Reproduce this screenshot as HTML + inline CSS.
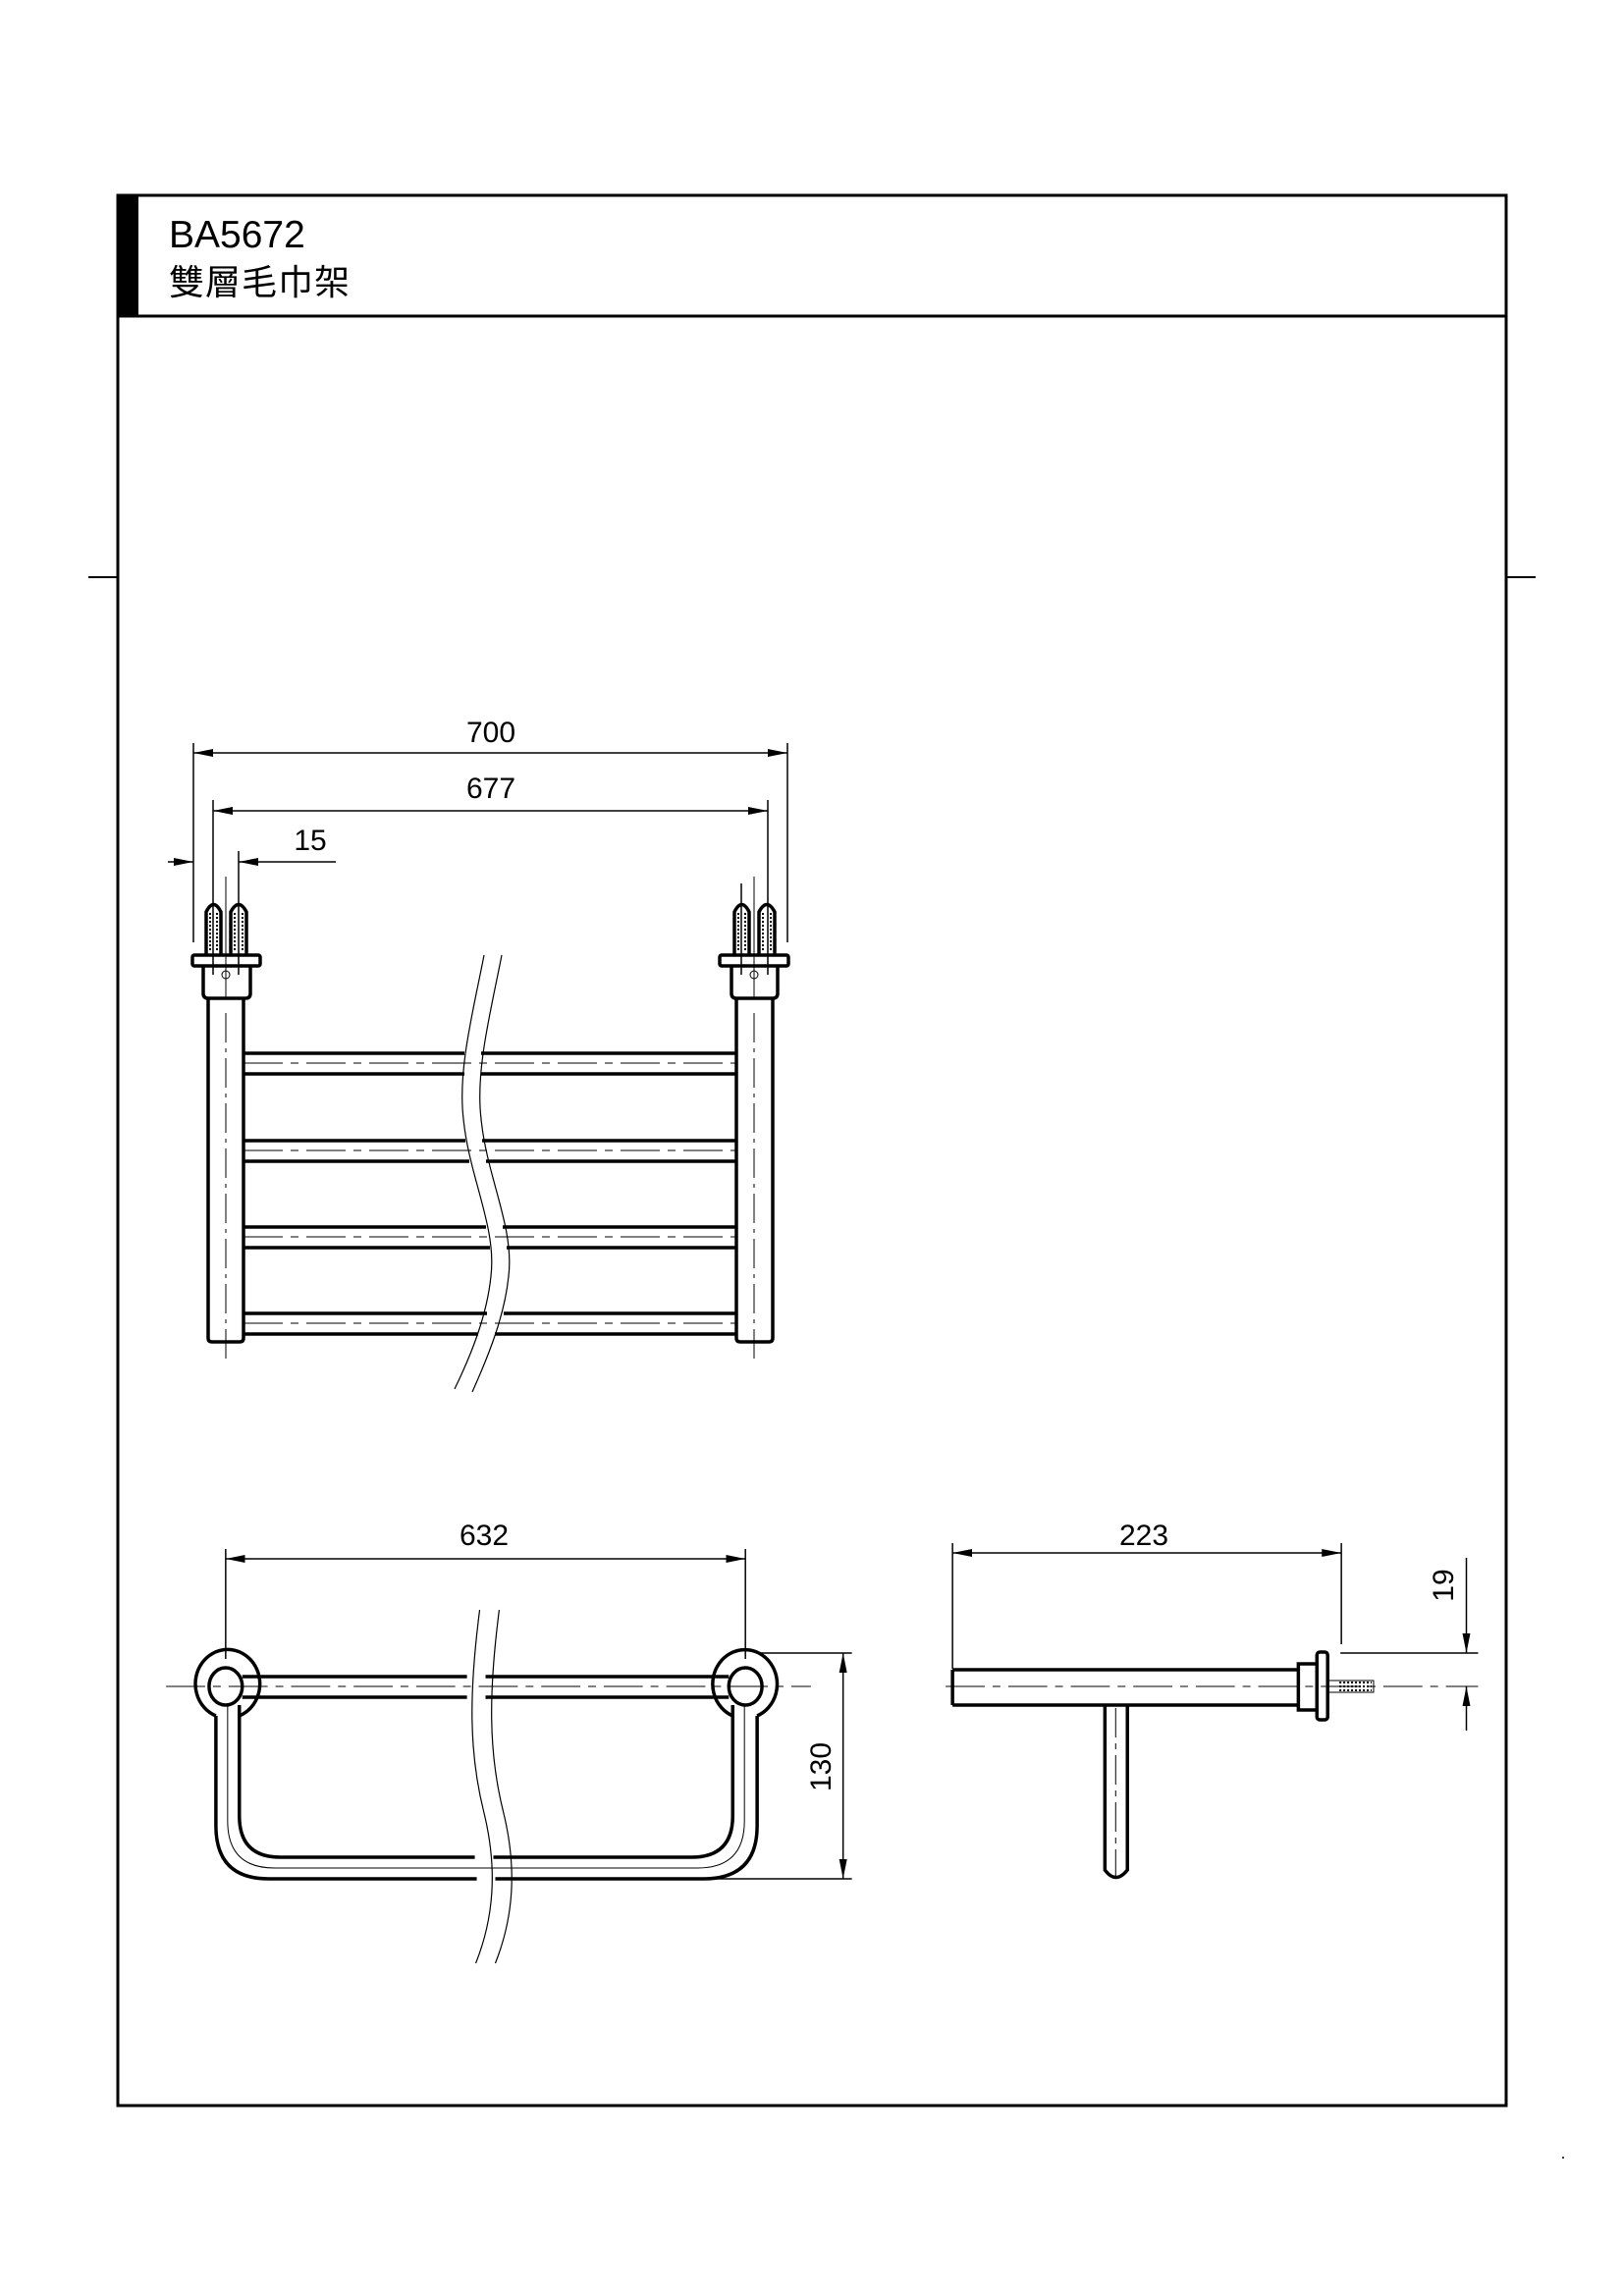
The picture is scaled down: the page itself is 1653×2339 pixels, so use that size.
<!DOCTYPE html>
<html><head><meta charset="utf-8"><style>
html,body{margin:0;padding:0;background:#fff}
svg{display:block}
text{font-family:"Liberation Sans","Noto Sans CJK TC",sans-serif;fill:#000}
</style></head><body>
<svg width="1653" height="2339" viewBox="0 0 1653 2339" xmlns="http://www.w3.org/2000/svg">
<defs>
<marker id="a" viewBox="0 0 20 8" refX="20" refY="4" markerWidth="20" markerHeight="8" markerUnits="userSpaceOnUse" orient="auto-start-reverse"><path d="M0,0 L20,4 L0,8 Z" fill="#000"/></marker>
</defs>
<rect x="120" y="199" width="1414" height="1946" fill="none" stroke="#000" stroke-width="3"/>
<rect x="120" y="199" width="21" height="123" fill="#000"/>
<line x1="120" y1="322" x2="1534" y2="322" stroke="#000" stroke-width="3"/>
<line x1="90" y1="588" x2="120" y2="588" stroke="#000" stroke-width="2"/>
<line x1="1534" y1="588" x2="1564" y2="588" stroke="#000" stroke-width="2"/>
<text x="172" y="252" font-size="39">BA5672</text>
<text x="172" y="300" font-size="36" letter-spacing="1">雙層毛巾架</text>
<circle cx="1592" cy="2198" r="1" fill="#000"/>

<g stroke="#000" fill="none">
<g stroke-width="1.5">
<line x1="197" y1="767" x2="802" y2="767" marker-start="url(#a)" marker-end="url(#a)"/>
<line x1="217" y1="826" x2="782" y2="826" marker-start="url(#a)" marker-end="url(#a)"/>
<line x1="171" y1="878" x2="197" y2="878" marker-end="url(#a)"/>
<line x1="342" y1="878" x2="243" y2="878" marker-end="url(#a)"/>
<line x1="197" y1="757" x2="197" y2="960"/>
<line x1="802" y1="757" x2="802" y2="960"/>
<line x1="217" y1="815" x2="217" y2="993"/>
<line x1="782" y1="815" x2="782" y2="993"/>
<line x1="243" y1="867" x2="243" y2="993"/>
<line x1="755" y1="900" x2="755" y2="993"/>
</g>
<g stroke-width="3.5">
<rect x="196" y="973" width="69" height="11" rx="2"/>
<rect x="733" y="973" width="70" height="11" rx="2"/>
<path d="M207,984 V1012 Q207,1017 212,1017 H250 Q255,1017 255,1012 V984"/>
<path d="M745,984 V1012 Q745,1017 750,1017 H787 Q792,1017 792,1012 V984"/>
<path d="M212,1017 V1363 Q212,1367 216,1367 H244 Q248,1367 248,1363 V1017"/>
<path d="M750,1017 V1363 Q750,1367 754,1367 H783 Q787,1367 787,1363 V1017"/>
<path d="M210,973 V929 Q217.5,914 225,929 V973 M235,973 V929 Q243,914 251,929 V973"/>
<path d="M748,973 V929 Q755.5,914 763,929 V973 M773,973 V929 Q781,914 789,929 V973"/>
</g>
<g stroke-width="1">
<line x1="214" y1="930" x2="214" y2="970" stroke-dasharray="2 2" stroke-width="2"/><line x1="221" y1="930" x2="221" y2="970" stroke-dasharray="2 2" stroke-width="2"/>
<line x1="239" y1="930" x2="239" y2="970" stroke-dasharray="2 2" stroke-width="2"/><line x1="247" y1="930" x2="247" y2="970" stroke-dasharray="2 2" stroke-width="2"/>
<line x1="752" y1="930" x2="752" y2="970" stroke-dasharray="2 2" stroke-width="2"/><line x1="759" y1="930" x2="759" y2="970" stroke-dasharray="2 2" stroke-width="2"/>
<line x1="777" y1="930" x2="777" y2="970" stroke-dasharray="2 2" stroke-width="2"/><line x1="785" y1="930" x2="785" y2="970" stroke-dasharray="2 2" stroke-width="2"/>
<circle cx="230" cy="993" r="4"/><circle cx="768" cy="993" r="4"/>
<line x1="230" y1="893" x2="230" y2="1017"/><line x1="768" y1="893" x2="768" y2="1017"/>
<line x1="230" y1="1032" x2="230" y2="1390" stroke-dasharray="30 6 4 6"/>
<line x1="768" y1="1032" x2="768" y2="1390" stroke-dasharray="30 6 4 6"/>
</g>
<g stroke-width="3.5">
<path d="M248,1073 H473 M490,1073 H750 M248,1094 H473 M490,1094 H750"/>
<path d="M248,1162 H474 M491,1162 H750 M248,1183 H478 M495,1183 H750"/>
<path d="M248,1250 H495 M512,1250 H750 M248,1271 H499 M516,1271 H750"/>
<path d="M248,1338 H496 M513,1338 H750 M248,1359 H487 M504,1359 H750"/>
</g>
<g stroke-width="1" stroke-dasharray="40 8 8 8">
<line x1="248" y1="1083" x2="750" y2="1083"/><line x1="248" y1="1172" x2="750" y2="1172"/>
<line x1="248" y1="1260" x2="750" y2="1260"/><line x1="248" y1="1348" x2="750" y2="1348"/>
</g>
<g stroke-width="1.2">
<path d="M493,973 C482,1030 466,1090 472,1140 C478,1200 506,1250 500,1300 C496,1340 480,1380 463,1415"/>
<path d="M511,973 C500,1030 484,1090 490,1140 C496,1200 524,1250 518,1300 C514,1340 498,1380 481,1418"/>
</g>

<g transform="matrix(0.995,0,0,1,0,0)">
<g stroke-width="1.5">
<line x1="231" y1="1588" x2="763" y2="1588" marker-start="url(#a)" marker-end="url(#a)"/>
<line x1="231" y1="1578" x2="231" y2="1690"/><line x1="763" y1="1578" x2="763" y2="1690"/>
<line x1="863" y1="1684" x2="863" y2="1914" marker-start="url(#a)" marker-end="url(#a)"/>
<line x1="775" y1="1684" x2="872" y2="1684"/><line x1="720" y1="1914" x2="872" y2="1914"/>
</g>
<g stroke-width="3.5">
<path d="M221,1748 A33,35 0 1 1 245,1748"/>
<path d="M750,1748 A33,35 0 1 1 775,1748"/>
<ellipse cx="231" cy="1718" rx="17" ry="19"/>
<ellipse cx="763" cy="1718" rx="17" ry="19"/>
<path d="M248,1708 H478 M497,1708 H746 M248,1729 H478 M497,1729 H746"/>
<path d="M221,1748 V1860 Q221,1914 275,1914 H488 M507,1914 H720 Q775,1914 775,1860 V1748"/>
<path d="M245,1737 V1850 Q245,1892 287,1892 H486 M505,1892 H708 Q750,1892 750,1850 V1737"/>
</g>
<g stroke-width="1">
<path d="M233,1737 V1855 Q233,1903 281,1903 H714 Q762,1903 762,1855 V1737"/>
<line x1="170" y1="1718" x2="830" y2="1718" stroke-dasharray="40 8 8 8"/>
</g>
<g stroke-width="1.2">
<path d="M491,1640 C480,1725 480,1785 495,1845 C510,1905 505,1955 487,2000"/>
<path d="M511,1640 C500,1725 500,1785 515,1845 C530,1905 525,1955 507,2000"/>
</g>
<g transform="translate(-7,0)">
<g stroke-width="1.5">
<line x1="982" y1="1582" x2="1380" y2="1582" marker-start="url(#a)" marker-end="url(#a)"/>
<line x1="982" y1="1572" x2="982" y2="1700"/><line x1="1380" y1="1572" x2="1380" y2="1675"/>
<line x1="1508" y1="1587" x2="1508" y2="1684" marker-end="url(#a)"/>
<line x1="1508" y1="1763" x2="1508" y2="1718" marker-end="url(#a)"/>
<line x1="1379" y1="1684" x2="1520" y2="1684"/>
</g>
<g stroke-width="3.5">
<path d="M982,1701 H1336 M982,1737 H1336 M982,1701 V1737"/>
<rect x="1336" y="1695" width="19" height="47"/>
<rect x="1355" y="1683" width="11" height="69" rx="3"/>
<path d="M1138,1737 V1905 Q1149,1920 1161,1905 V1737"/>
</g>
<g stroke-width="1">
<rect x="1366" y="1712" width="47" height="12"/>
<path d="M1378,1714 H1411 M1378,1718 H1411 M1378,1722 H1411" stroke-dasharray="2 2" stroke-width="2"/>
<line x1="975" y1="1718" x2="1520" y2="1718" stroke-dasharray="40 8 8 8"/>
<line x1="1149" y1="1740" x2="1149" y2="1912" stroke-dasharray="30 6 6 6"/>
</g>
</g>
</g>
</g>

<g font-size="30">
<text x="500" y="756" text-anchor="middle">700</text>
<text x="500" y="813" text-anchor="middle">677</text>
<text x="316" y="866" text-anchor="middle">15</text>
<text x="493" y="1574" text-anchor="middle">632</text>
<text x="1165" y="1574" text-anchor="middle">223</text>
<text transform="translate(846,1800) rotate(-90)" text-anchor="middle">130</text>
<text transform="translate(1480,1615) rotate(-90)" text-anchor="middle">19</text>
</g>
</svg>
</body></html>
